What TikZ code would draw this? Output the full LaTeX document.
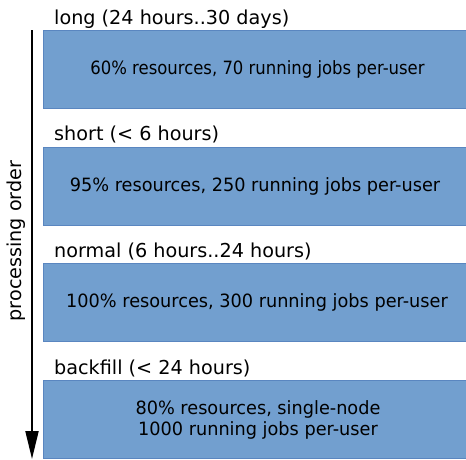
\documentclass[tikz,border=0pt]{standalone}
\usepackage{fontspec}
\setmainfont{DejaVu Sans}
\usetikzlibrary{arrows.meta}
\definecolor{boxfill}{HTML}{729FCF}
\definecolor{boxline}{HTML}{5A86C0}
\newcommand{\sqz}[2]{\scalebox{#1}[1]{#2}}
\begin{document}
\begin{tikzpicture}[x=1pt,y=-1pt,
  qbox/.style={draw=boxline,fill=boxfill,line width=1pt},
  qtext/.style={font=\fontsize{18.3}{21}\selectfont,align=center},
  qtitle/.style={font=\fontsize{19.2}{22}\selectfont,anchor=base west,inner sep=0pt}]
\useasboundingbox (0,0) rectangle (466,459);
\begin{scope}
\clip (0,0) rectangle (466,459);
\foreach \t/\n in {30/a,147/b,263.5/c,380/d}{
  \draw[qbox] (43,\t) rectangle (472,\t+78);
}
\end{scope}
\node[qtitle] (ta) at (54,24) {long (24 hours..30 days)};
\node[qtitle] (tb) at (54,140) {short (< 6 hours)};
\node[qtitle] (tc) at (54,257) {normal (6 hours..24 hours)};
\node[qtitle] (td) at (54,374) {backfill (< 24 hours)};
\node[qtext] (ba) at (257.5,69) {\sqz{0.90}{60\% resources, 70 running jobs per-user}};
\node[qtext] (bb) at (255,186) {\sqz{0.967}{95\% resources, 250 running jobs per-user}};
\node[qtext] (bc) at (257,302.5) {\sqz{0.967}{100\% resources, 300 running jobs per-user}};
\node[qtext] (bd) at (258,419.5) {\sqz{0.967}{80\% resources, single-node}\\\sqz{0.967}{1000 running jobs per-user}};
\coordinate (s) at (32,30);
\coordinate (e) at (32,459);
\draw[line width=2pt,-{Triangle[length=28pt,width=13pt]}] (s) -- (e);
\node[qtitle,anchor=center,inner sep=0pt,rotate=90] (po) at (16,241) {processing order};
\end{tikzpicture}
\end{document}
